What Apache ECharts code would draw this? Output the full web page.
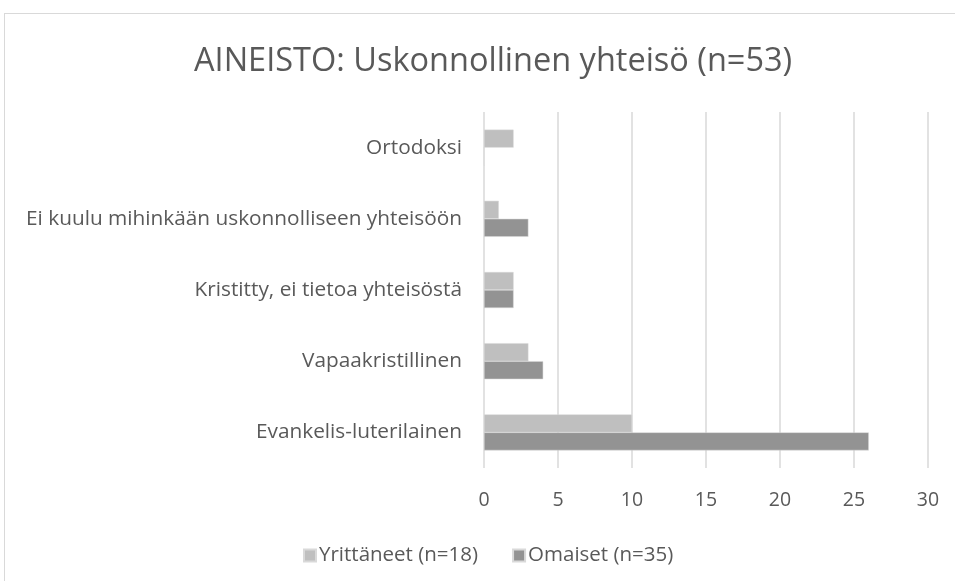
<!DOCTYPE html>
<html>
<head>
<meta charset="utf-8">
<script src="https://cdn.jsdelivr.net/npm/echarts@6/dist/echarts.min.js"></script>
<style>
  html, body { margin: 0; padding: 0; background: #fff; }
  #chart { width: 955px; height: 581px; }
  .frame {
    position: absolute; left: 4px; top: 13px; width: 960px; height: 580px;
    border: 1px solid #d9d9d9; pointer-events: none;
  }
</style>
</head>
<body>
<div id="chart"></div>
<div class="frame"></div>
<script>
const categories = [
  'Evankelis-luterilainen',
  'Vapaakristillinen',
  'Kristitty, ei tietoa yhteisöstä',
  'Ei kuulu mihinkään uskonnolliseen yhteisöön',
  'Ortodoksi'
]
const yrittaneet = [10, 3, 2, 1, 2]
const omaiset = [26, 4, 2, 3, 0]
const seriesNames = ['Yrittäneet (n=18)', 'Omaiset (n=35)']
const xTicks = { min: 0, max: 30, interval: 5 }

const font = '"Open Sans", "Noto Sans", sans-serif'
const textColor = '#595959'

const chart = echarts.init(document.getElementById('chart'))
chart.setOption({
  animation: false,
  title: {
    text: 'AINEISTO: Uskonnollinen yhteisö (n=53)',
    left: 189,
    top: 40,
    textStyle: { fontFamily: font, fontSize: 32.5, fontWeight: 'normal', color: textColor },
  },
  legend: {
    data: seriesNames,
    top: 540,
    left: 298,
    itemWidth: 12,
    itemHeight: 12,
    itemGap: 34,
    icon: 'rect',
    textStyle: { fontFamily: font, fontSize: 20.5, color: textColor, padding: [0, 0, 0, -2] },
  },
  grid: { left: 484, right: 27, top: 112, bottom: 113 },
  xAxis: {
    type: 'value',
    min: xTicks.min,
    max: xTicks.max,
    interval: xTicks.interval,
    axisLine: { show: false },
    axisTick: { show: false },
    axisLabel: { fontFamily: font, fontSize: 19.5, color: textColor, margin: 22 },
    splitLine: { lineStyle: { color: '#d9d9d9', width: 1.5 } },
  },
  yAxis: {
    type: 'category',
    data: categories,
    axisLine: { show: false },
    axisTick: { show: false },
    axisLabel: { fontFamily: font, fontSize: 20.8, color: textColor, margin: 22 },
  },
  series: [
    {
      name: seriesNames[0],
      type: 'bar',
      data: yrittaneet,
      barWidth: 18,
      barGap: '0%',
      itemStyle: { color: '#bfbfbf', borderColor: '#d9d9d9', borderWidth: 0.5 },
    },
    {
      name: seriesNames[1],
      type: 'bar',
      data: omaiset,
      barWidth: 18,
      barGap: '0%',
      itemStyle: { color: '#939393', borderColor: '#d9d9d9', borderWidth: 0.5 },
    },
  ],
})
</script>
</body>
</html>
